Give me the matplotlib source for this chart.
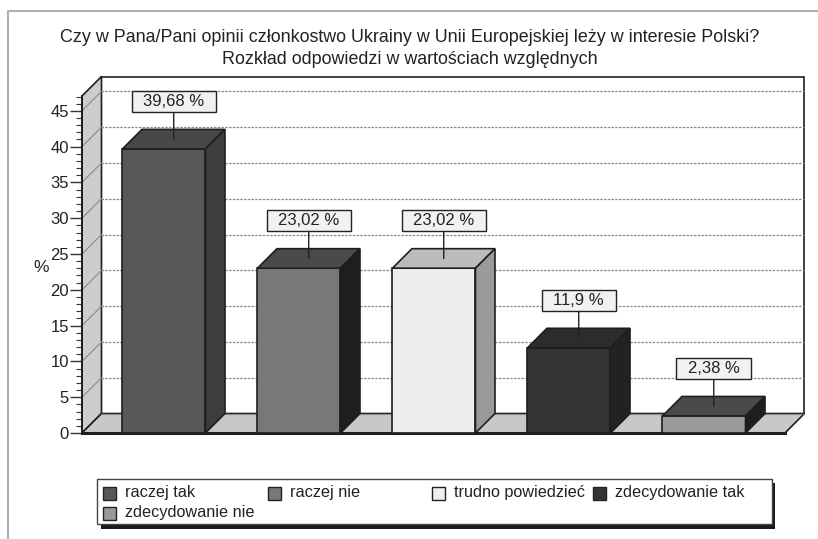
import matplotlib
matplotlib.use('Agg')
import matplotlib.pyplot as plt
from matplotlib.patches import Polygon, Rectangle
from matplotlib.path import Path
from matplotlib.ticker import MultipleLocator

plt.rcParams['font.family'] = ['Liberation Sans', 'DejaVu Sans']

# ---------------- data ----------------
title_line1 = "Czy w Pana/Pani opinii członkostwo Ukrainy w Unii Europejskiej leży w interesie Polski?"
title_line2 = "Rozkład odpowiedzi w wartościach względnych"
categories = ['raczej tak', 'raczej nie', 'trudno powiedzieć', 'zdecydowanie tak', 'zdecydowanie nie']
values = [39.68, 23.02, 23.02, 11.9, 2.38]
value_labels = ['39,68 %', '23,02 %', '23,02 %', '11,9 %', '2,38 %']
yticks = [0, 5, 10, 15, 20, 25, 30, 35, 40, 45]
front_colors = ['#585858', '#787878', '#eeeeee', '#333333', '#9a9a9a']
top_colors = ['#474747', '#4a4a4a', '#bcbcbc', '#2c2c2c', '#4a4a4a']
side_colors = ['#3e3e3e', '#1e1e1e', '#9a9a9a', '#222222', '#1e1e1e']

# ---------------- figure ----------------
W, H = 818, 539
fig = plt.figure(figsize=(W / 100, H / 100), dpi=100)
fig.patch.set_facecolor('white')


def fx(x):
    return x / W


def fy(y):
    return 1 - y / H


# outer frame (left and top lines)
fig.add_artist(plt.Line2D([fx(8), fx(8), fx(818)], [fy(539), fy(11), fy(11)],
                          color='#b0b0b0', lw=1.5, transform=fig.transFigure))

# titles
fig.text(fx(410), fy(38), title_line1, ha='center', va='center', fontsize=12.9, color='#222222')
fig.text(fx(410), fy(59), title_line2, ha='center', va='center', fontsize=12.9, color='#222222')

# axes = front plane
ax_l, ax_r, ax_b, ax_t = 82, 785, 433, 96
ax = fig.add_axes([fx(ax_l), fy(ax_b), (ax_r - ax_l) / W, (ax_b - ax_t) / H])
ax.patch.set_visible(False)
xs = list(range(len(values)))
x0, x1 = -0.607, 4.6
ymax = 47.07
ax.set_xlim(x0, x1)
ax.set_ylim(0, ymax)

depth_px = 19.5
ddx = depth_px * (x1 - x0) / (ax_r - ax_l)
ddy = depth_px * ymax / (ax_b - ax_t)
edge = '#1e1e1e'

# left wall
ax.add_patch(Polygon([(x0, 0), (x0 + ddx, ddy), (x0 + ddx, ymax + ddy), (x0, ymax)],
                     closed=True, fc='#cdcdcd', ec=edge, lw=1.2, clip_on=False, zorder=0.5))
# back wall
ax.add_patch(Polygon([(x0 + ddx, ddy), (x1 + ddx, ddy), (x1 + ddx, ymax + ddy), (x0 + ddx, ymax + ddy)],
                     closed=True, fc='white', ec=edge, lw=1.2, clip_on=False, zorder=0.4))
# floor
ax.add_patch(Polygon([(x0, 0), (x1, 0), (x1 + ddx, ddy), (x0 + ddx, ddy)],
                     closed=True, fc='#c8c8c8', ec=edge, lw=1.2, clip_on=False, zorder=0.6))
ax.plot([x0, x1], [0, 0], color=edge, lw=2.2, clip_on=False, zorder=0.7)

# grid lines on back wall and left wall
for y in yticks:
    ax.plot([x0 + ddx, x1 + ddx], [y + ddy, y + ddy], color='#8a8a8a', lw=0.9,
            ls=(0, (2, 1)), clip_on=False, zorder=0.8)
    if y > 0:
        ax.plot([x0, x0 + ddx], [y, y + ddy], color='#8a8a8a', lw=0.8,
                clip_on=False, zorder=0.8)

# bars
bw = 0.615
ax.bar(xs, values, width=bw, color=front_colors, edgecolor=edge, linewidth=1.2, zorder=4)
for x, v, tc, sc in zip(xs, values, top_colors, side_colors):
    l, r = x - bw / 2, x + bw / 2
    ax.add_patch(Polygon([(l, v), (r, v), (r + ddx, v + ddy), (l + ddx, v + ddy)],
                         closed=True, fc=tc, ec=edge, lw=1.2, clip_on=False, zorder=4))
    ax.add_patch(Polygon([(r, 0), (r + ddx, ddy), (r + ddx, v + ddy), (r, v)],
                         closed=True, fc=sc, ec=edge, lw=1.2, clip_on=False, zorder=4))


# value label boxes
def label_box(x0_, y0_, width, height, mutation_size):
    padx, pady = 11.5, 3.0
    xa, xb = x0_ - padx, x0_ + width + padx
    ya, yb = y0_ - pady, y0_ + height + pady
    return Path([(xa, ya), (xb, ya), (xb, yb), (xa, yb), (xa, ya)],
                [Path.MOVETO, Path.LINETO, Path.LINETO, Path.LINETO, Path.CLOSEPOLY])


for x, v, lab in zip(xs, values, value_labels):
    ax.annotate(lab, xy=(x + ddx / 2, v + ddy / 2), xytext=(0, 38), textcoords='offset pixels',
                ha='center', va='center', fontsize=12, color='#222222', zorder=10,
                bbox=dict(boxstyle=label_box, fc='#f1f1f1', ec='#222222', lw=1.0),
                arrowprops=dict(arrowstyle='-', color='#222222', lw=1.0, shrinkA=0, shrinkB=0,
                                relpos=(0.5, 0.0)),
                annotation_clip=False)

# axes styling
for s in ['top', 'right', 'bottom']:
    ax.spines[s].set_visible(False)
ax.spines['left'].set_color(edge)
ax.spines['left'].set_linewidth(1.4)
ax.spines['left'].set_zorder(5)
ax.set_xticks([])
ax.set_yticks(yticks)
ax.yaxis.set_minor_locator(MultipleLocator(1))
ax.tick_params(axis='y', which='major', direction='out', length=9, width=1, color='#333333',
               labelsize=12, labelcolor='#222222', pad=0.5)
ax.tick_params(axis='y', which='minor', direction='out', length=4, width=0.8, color='#333333')

fig.text(fx(41), fy(267), '%', ha='center', va='center', fontsize=12.5, color='#222222')

# legend (manual, with shadow)
fig.add_artist(Rectangle((fx(101), fy(529)), (775 - 101) / W, (529 - 483) / H,
                         transform=fig.transFigure, fc='#1a1a1a', ec='none', zorder=1))
fig.add_artist(Rectangle((fx(97), fy(524)), (772 - 97) / W, (524 - 479) / H,
                         transform=fig.transFigure, fc='white', ec='#444444', lw=1.0, zorder=2))
leg_pos = [(103, 493), (268, 493), (432, 493), (593, 493), (103, 513)]
ms = 13
for (mx, my), cat, col in zip(leg_pos, categories, front_colors):
    fig.add_artist(Rectangle((fx(mx), fy(my + ms / 2)), ms / W, ms / H, transform=fig.transFigure,
                             fc=col, ec='#222222', lw=1.0, zorder=3))
    fig.text(fx(mx + 22), fy(my), cat, ha='left', va='center', fontsize=11.7, color='#222222', zorder=3)

fig.savefig('out.png', dpi=100, facecolor='white')
